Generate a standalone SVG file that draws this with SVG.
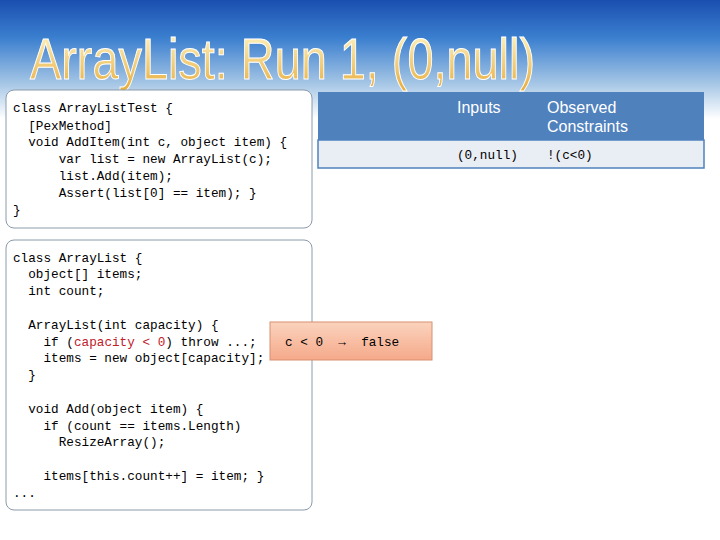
<svg xmlns="http://www.w3.org/2000/svg" width="720" height="540" viewBox="0 0 720 540">
<defs>
<linearGradient id="bg" x1="0" y1="0" x2="0" y2="1">
<stop offset="0" stop-color="#1a4fb0"/><stop offset="0.07" stop-color="#3b7fcf"/><stop offset="0.15" stop-color="#9fc2e4"/><stop offset="0.22" stop-color="#ffffff"/><stop offset="1" stop-color="#ffffff"/>
</linearGradient>
<linearGradient id="tg" x1="0" y1="0" x2="0" y2="1">
<stop offset="0" stop-color="#fffbd0"/><stop offset="1" stop-color="#e8ac3c"/>
</linearGradient>
<linearGradient id="og" x1="0" y1="0" x2="0" y2="1">
<stop offset="0" stop-color="#fbd3bd"/><stop offset="1" stop-color="#f5a98a"/>
</linearGradient>
<style>
.box{fill:#fff;stroke:#8a9aaa;stroke-width:1}
.code{font-family:"Liberation Mono",monospace;font-size:12.7px;fill:#000}
.hd{font-family:"Liberation Sans",sans-serif;font-size:16px;fill:#fff}
.red{fill:#c0202a}
</style>
</defs>
<rect width="720" height="540" fill="url(#bg)"/>
<text x="30" y="79" font-family="Liberation Sans Narrow,Liberation Sans,sans-serif" font-size="58" fill="url(#tg)" stroke="#fff" stroke-width="1" textLength="505" lengthAdjust="spacingAndGlyphs">ArrayList: Run 1, (0,null)</text>
<g id="test">
<rect class="box" x="6" y="90" width="306" height="138" rx="8"/>
<text class="code" x="13" y="112" xml:space="preserve">class ArrayListTest {</text>
<text class="code" x="13" y="130" xml:space="preserve">  [PexMethod]</text>
<text class="code" x="13" y="146" xml:space="preserve">  void AddItem(int c, object item) {</text>
<text class="code" x="13" y="163" xml:space="preserve">      var list = new ArrayList(c);</text>
<text class="code" x="13" y="180" xml:space="preserve">      list.Add(item);</text>
<text class="code" x="13" y="197" xml:space="preserve">      Assert(list[0] == item); }</text>
<text class="code" x="13" y="214" xml:space="preserve">}</text>
</g>
<g id="table">
<rect x="318" y="92" width="386" height="48" fill="#4f81bd"/>
<rect x="318" y="140" width="386" height="28" fill="#e9edf4" stroke="#4f81bd" stroke-width="1.5"/>
<text class="hd" x="457" y="113">Inputs</text>
<text class="hd" x="547" y="113">Observed</text>
<text class="hd" x="547" y="132">Constraints</text>
<text class="code" x="457" y="159" font-size="14.5">(0,null)</text>
<text class="code" x="547" y="159" font-size="14.5">!(c&lt;0)</text>
</g>
<g id="arraylist">
<rect class="box" x="6" y="240" width="306" height="270" rx="8"/>
<text class="code" x="13" y="262" xml:space="preserve">class ArrayList {</text>
<text class="code" x="13" y="278" xml:space="preserve">  object[] items;</text>
<text class="code" x="13" y="295" xml:space="preserve">  int count;</text>
<text class="code" x="13" y="329" xml:space="preserve">  ArrayList(int capacity) {</text>
<text class="code" x="13" y="346" xml:space="preserve">    if (<tspan class="red">capacity &lt; 0</tspan>) throw ...;</text>
<text class="code" x="13" y="362" xml:space="preserve">    items = new object[capacity];</text>
<text class="code" x="13" y="379" xml:space="preserve">  }</text>
<text class="code" x="13" y="413" xml:space="preserve">  void Add(object item) {</text>
<text class="code" x="13" y="430" xml:space="preserve">    if (count == items.Length)</text>
<text class="code" x="13" y="446" xml:space="preserve">      ResizeArray();</text>
<text class="code" x="13" y="480" xml:space="preserve">    items[this.count++] = item; }</text>
<text class="code" x="13" y="497" xml:space="preserve">...</text>
</g>
<g id="constraint">
<rect x="270" y="322" width="162" height="38" fill="url(#og)" stroke="#d89070" stroke-width="1"/>
<text class="code" x="285" y="346" xml:space="preserve">c &lt; 0  →  false</text>
</g>
</svg>
